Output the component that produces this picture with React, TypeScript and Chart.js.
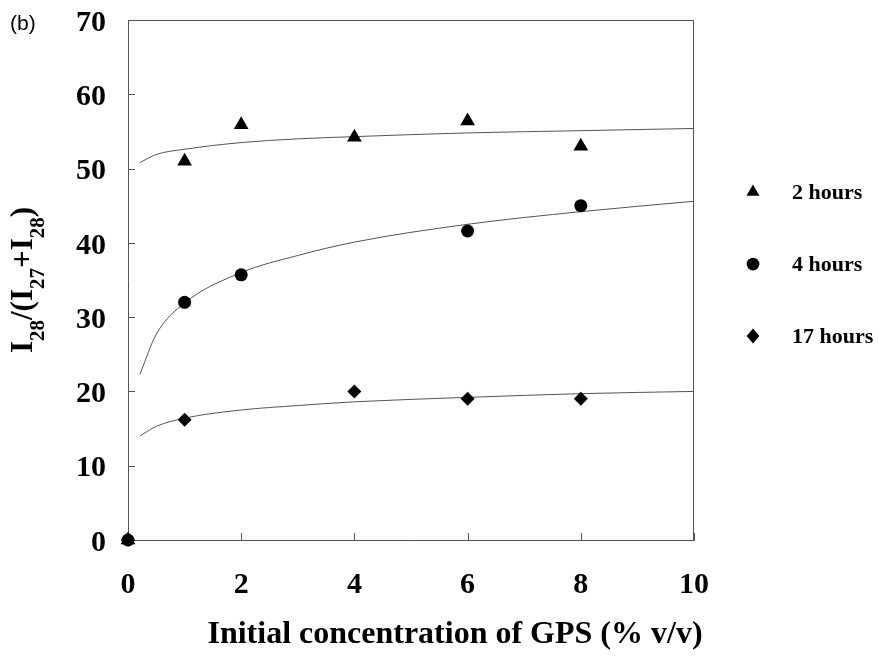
import React, { useEffect, useRef } from "react";
import { Chart, registerables } from "chart.js";

Chart.register(...registerables);

// ---- data ----
const seriesNames = ["2 hours", "4 hours", "17 hours"];
const pointStyles = ["triangle", "circle", "rectRot"];

const x2h = [0, 1, 2, 4, 6, 8];
const y2h = [0, 51.0, 55.9, 54.2, 56.4, 53.0];

const x4h = [0, 1, 2, 6, 8];
const y4h = [0, 32.0, 35.7, 41.6, 45.0];

const x17h = [0, 1, 4, 6, 8];
const y17h = [0, 16.2, 20.0, 19.0, 19.0];

// trend curves
const trendX = [0.21, 0.5, 1, 2, 3, 4, 6, 8, 10];
const trend2h = [50.8, 51.9, 52.6, 53.5, 54.0, 54.3, 54.8, 55.1, 55.4];
const trend4h = [22.3, 27.7, 31.9, 36.0, 38.3, 40.1, 42.5, 44.2, 45.6];
const trend17h = [14.0, 15.3, 16.4, 17.5, 18.1, 18.6, 19.2, 19.7, 20.0];

const xTickValues = [0, 2, 4, 6, 8, 10];
const yTickValues = [0, 10, 20, 30, 40, 50, 60, 70];

const xTitle = "Initial concentration of GPS (% v/v)";
const panelLabel = "(b)";
// y title pieces: [text, isSubscript]
const yTitleParts: [string, boolean][] = [
  ["I", false],
  ["28", true],
  ["/(I", false],
  ["27", true],
  ["+I", false],
  ["28", true],
  [")", false],
];

const SERIF = "'Liberation Serif', 'Times New Roman', serif";

const toPts = (xs: number[], ys: number[]) => xs.map((x, i) => ({ x, y: ys[i] }));

function drawMarker(ctx: CanvasRenderingContext2D, style: string, x: number, y: number, r: number) {
  ctx.beginPath();
  if (style === "triangle") {
    const h = r * 1.5;
    const half = (Math.sqrt(3) * r) / 2;
    ctx.moveTo(x, y - r);
    ctx.lineTo(x + half, y - r + h);
    ctx.lineTo(x - half, y - r + h);
    ctx.closePath();
  } else if (style === "circle") {
    ctx.arc(x, y, r * 0.85, 0, Math.PI * 2);
  } else {
    ctx.moveTo(x - r * 0.85, y);
    ctx.lineTo(x, y - r);
    ctx.lineTo(x + r * 0.85, y);
    ctx.lineTo(x, y + r);
    ctx.closePath();
  }
  ctx.fill();
}

const decorPlugin = {
  id: "decor",
  beforeDatasetsDraw(chart: any) {
    const { ctx, chartArea: ca, scales } = chart;
    ctx.save();
    ctx.strokeStyle = "#555";
    ctx.lineWidth = 1;
    ctx.beginPath();
    ctx.moveTo(ca.left, ca.top + 0.5);
    ctx.lineTo(ca.right, ca.top + 0.5);
    ctx.moveTo(ca.right - 0.5, ca.top);
    ctx.lineTo(ca.right - 0.5, ca.bottom);
    for (const v of yTickValues) {
      const py = Math.round(scales.y.getPixelForValue(v)) + 0.5;
      ctx.moveTo(ca.left, py);
      ctx.lineTo(ca.left + 7, py);
    }
    for (const v of xTickValues) {
      const px = Math.round(scales.x.getPixelForValue(v)) + 0.5;
      ctx.moveTo(px, ca.bottom);
      ctx.lineTo(px, ca.bottom - 7);
    }
    ctx.stroke();
    ctx.restore();
  },
  afterDraw(chart: any) {
    const { ctx, chartArea: ca } = chart;
    ctx.save();
    ctx.fillStyle = "#000";

    // panel label
    ctx.font = "21px 'Liberation Sans', Arial, sans-serif";
    ctx.textAlign = "left";
    ctx.textBaseline = "alphabetic";
    ctx.fillText(panelLabel, 10, 30);

    // x title
    ctx.font = `bold 32px ${SERIF}`;
    ctx.textAlign = "center";
    ctx.fillText(xTitle, 455, 643);

    // y title (rotated with subscripts)
    const bigFont = `bold 31px ${SERIF}`;
    const subFont = `bold 21px ${SERIF}`;
    let total = 0;
    for (const [t, sub] of yTitleParts) {
      ctx.font = sub ? subFont : bigFont;
      total += ctx.measureText(t).width;
    }
    ctx.translate(32, (ca.top + ca.bottom) / 2);
    ctx.rotate(-Math.PI / 2);
    ctx.textAlign = "left";
    let cx = -total / 2;
    for (const [t, sub] of yTitleParts) {
      ctx.font = sub ? subFont : bigFont;
      ctx.fillText(t, cx, sub ? 12 : 0);
      cx += ctx.measureText(t).width;
    }
    ctx.setTransform(1, 0, 0, 1, 0, 0);

    // legend
    const legendY = [192, 264, 336];
    ctx.font = `bold 22px ${SERIF}`;
    ctx.textAlign = "left";
    ctx.textBaseline = "middle";
    seriesNames.forEach((name, i) => {
      drawMarker(ctx, pointStyles[i], 753, legendY[i], 7.5);
      ctx.fillText(name, 792, legendY[i] + 1);
    });
    ctx.restore();
  },
};

export default function App() {
  const ref = useRef<HTMLCanvasElement | null>(null);

  useEffect(() => {
    if (!ref.current) return;
    const pointDs = (i: number, xs: number[], ys: number[], r: number) => ({
      type: "scatter" as const,
      label: seriesNames[i],
      data: toPts(xs, ys),
      pointStyle: pointStyles[i],
      pointRadius: r,
      pointBackgroundColor: "#000",
      pointBorderColor: "#000",
      pointBorderWidth: 0,
      showLine: false,
      clip: false as any,
      order: 1,
    });
    const trendDs = (ys: number[]) => ({
      type: "scatter" as const,
      label: "trend",
      data: toPts(trendX, ys),
      showLine: true,
      pointRadius: 0,
      borderColor: "#555",
      borderWidth: 1,
      cubicInterpolationMode: "monotone" as const,
      order: 2,
    });
    const font = { family: SERIF, size: 30, weight: "bold" as const };
    const zeroPad = (s: any) => {
      s.paddingTop = 0;
      s.paddingBottom = 0;
      s.paddingLeft = 0;
      s.paddingRight = 0;
    };
    const chart = new Chart(ref.current, {
      type: "scatter",
      data: {
        datasets: [
          trendDs(trend2h),
          trendDs(trend4h),
          trendDs(trend17h),
          pointDs(0, x2h, y2h, 8.5),
          pointDs(1, x4h, y4h, 6.5),
          pointDs(2, x17h, y17h, 7),
        ] as any,
      },
      options: {
        responsive: false,
        animation: false,
        layout: { padding: { top: 20, right: 185, left: 0, bottom: 0 } },
        plugins: { legend: { display: false }, tooltip: { enabled: false } },
        scales: {
          x: {
            type: "linear",
            min: 0,
            max: 10,
            afterBuildTicks: (s: any) => {
              s.ticks = xTickValues.map((v) => ({ value: v }));
            },
            ticks: { font, color: "#000", padding: 27, maxRotation: 0 },
            grid: { display: false, drawTicks: false },
            border: { display: true, color: "#555", width: 1 },
            afterFit: (s: any) => {
              s.height = 126;
              zeroPad(s);
            },
          },
          y: {
            type: "linear",
            min: 0,
            max: 70,
            afterBuildTicks: (s: any) => {
              s.ticks = yTickValues.map((v) => ({ value: v }));
            },
            ticks: { font, color: "#000", padding: 22, labelOffset: 3 },
            grid: { display: false, drawTicks: false },
            border: { display: true, color: "#555", width: 1 },
            afterFit: (s: any) => {
              s.width = 128;
              zeroPad(s);
            },
          },
        },
      },
      plugins: [decorPlugin],
    });
    return () => chart.destroy();
  }, []);

  return (
    <div style={{ position: "absolute", left: 0, top: 0, width: 879, height: 666, background: "#fff" }}>
      <canvas ref={ref} width={879} height={666} />
    </div>
  );
}
